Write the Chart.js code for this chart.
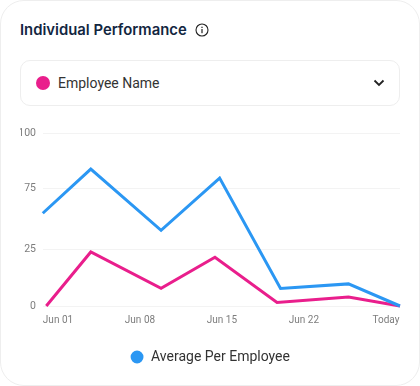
<!DOCTYPE html>
<html>
<head>
<meta charset="utf-8">
<title>Individual Performance</title>
<script src="https://cdn.jsdelivr.net/npm/chart.js@4"></script>
<style>
    html, body { margin: 0; padding: 0; background: #fff; }
    body { width: 420px; height: 386px; position: relative; overflow: hidden; font-family: Roboto, sans-serif; }
    .card { position: absolute; left: 0; top: 0; width: 418px; height: 384px; border: 1px solid #eeeeee; border-radius: 24px; }
    .title { position: absolute; left: 20px; top: 20px; font: 600 14.85px/20px Inter, sans-serif; color: #12263f; white-space: nowrap; }
    .info { position: absolute; left: 195px; top: 23px; }
    .picker { position: absolute; left: 20px; top: 60px; width: 378px; height: 44px; border: 1px solid #eeeeee; border-radius: 10px; }
    .dot { position: absolute; left: 15px; top: 15px; width: 14px; height: 14px; border-radius: 50%; background: #e91e8c; }
    .name { position: absolute; left: 37px; top: 12px; font-size: 14px; line-height: 20px; color: #333333; }
    .arrow { position: absolute; left: 352px; top: 18px; }
    canvas { position: absolute; left: 0; top: 120px; }
</style>
</head>
<body>
<div class="card"></div>
<div class="title">Individual Performance</div>
<svg class="info" width="14" height="14" viewBox="0 0 14 14">
    <circle cx="7" cy="7" r="6" fill="none" stroke="#222" stroke-width="1.1"/>
    <rect x="6.4" y="6" width="1.2" height="4.2" fill="#222"/>
    <rect x="6.4" y="3.7" width="1.2" height="1.3" fill="#222"/>
</svg>
<div class="picker">
    <div class="dot"></div>
    <div class="name">Employee Name</div>
    <svg class="arrow" width="12" height="8" viewBox="0 0 12 8">
        <path d="M1.5 1.5 L6 6 L10.5 1.5" fill="none" stroke="#222" stroke-width="1.8"/>
    </svg>
</div>
<canvas id="myChart" width="420" height="266"></canvas>

<script>
// x values are days of June, y values are read against the tick positions below
const averageDays = [-0.3, 3.8, 9.8, 14.8, 20, 25.8, 30.2];
const averageValues = [53.7, 79.3, 43.8, 74.1, 10.2, 12.8, 0];
const employeeDays = [0, 3.8, 9.8, 14.4, 19.7, 25.8, 30.2];
const employeeValues = [0, 31.3, 10.2, 28.2, 2.1, 5.2, 0];

const dayTicks = [1, 8, 15, 22, 29];
const dayLabels = ['Jun 01', 'Jun 08', 'Jun 15', 'Jun 22', 'Today'];

// the reference spaces its labels almost evenly, so 25 and 75 do not sit at 25% and 75%
const valueTicks = [0, 33, 68, 100];
const valueLabels = ['0', '25', '75', '100'];

let toPoints = function (days, values) {
    return days.map((day, i) => ({ x: day, y: values[i] }));
};

let config = {
    type: 'line',
    data: {
        datasets: [{
            label: 'Average Per Employee',
            data: toPoints(averageDays, averageValues),
            borderColor: '#2b97f3',
            backgroundColor: '#2b97f3',
            borderWidth: 3,
            pointRadius: 0,
            clip: false
        }, {
            label: 'Employee Name',
            data: toPoints(employeeDays, employeeValues),
            borderColor: '#e91e8c',
            backgroundColor: '#e91e8c',
            borderWidth: 3,
            pointRadius: 0,
            clip: false
        }]
    },
    options: {
        responsive: false,
        animation: false,
        layout: { padding: { top: 8, left: 20, right: 20, bottom: 12 } },
        scales: {
            x: {
                type: 'linear',
                min: -0.28,
                max: 30.2,
                afterBuildTicks: (axis) => { axis.ticks = dayTicks.map(v => ({ value: v })); },
                grid: { display: false },
                border: { display: false },
                ticks: {
                    color: '#7d7d7d',
                    font: { family: 'Roboto', size: 10 },
                    maxRotation: 0,
                    padding: 0,
                    callback: (value) => dayLabels[dayTicks.indexOf(value)]
                }
            },
            y: {
                min: 0,
                max: 100,
                afterBuildTicks: (axis) => { axis.ticks = valueTicks.map(v => ({ value: v })); },
                afterFit: (axis) => { axis.width = 23; },
                grid: { color: '#f3f3f3', drawTicks: false },
                border: { display: false },
                ticks: {
                    color: '#7d7d7d',
                    font: { family: 'Roboto', size: 10.5 },
                    padding: 7,
                    callback: (value) => valueLabels[valueTicks.indexOf(value)]
                }
            }
        },
        plugins: {
            tooltip: { enabled: false },
            legend: {
                position: 'bottom',
                labels: {
                    usePointStyle: true,
                    pointStyle: 'circle',
                    boxWidth: 14,
                    boxHeight: 7,
                    padding: 24,
                    color: '#333333',
                    font: { family: 'Roboto', size: 14 },
                    filter: (item) => item.datasetIndex === 0
                }
            }
        }
    }
};

const myChart = new Chart(document.getElementById('myChart'), config);
</script>
</body>
</html>
